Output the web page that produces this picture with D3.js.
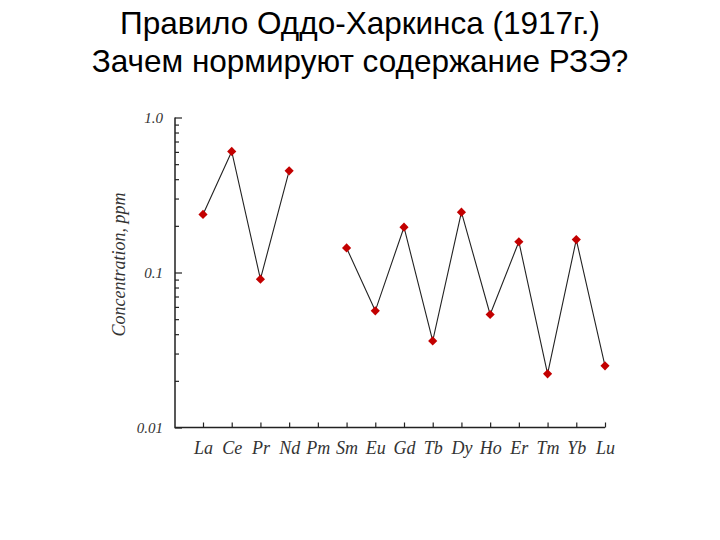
<!DOCTYPE html>
<html>
<head>
<meta charset="utf-8">
<script src="https://cdn.jsdelivr.net/npm/d3@7"></script>
<style>
  html, body { margin: 0; padding: 0; background: #fff; }
  svg { display: block; }
</style>
</head>
<body>
<svg id="chart" width="720" height="540"></svg>
<script>
// ---- data ----
const titleLines = ["Правило Оддо-Харкинса (1917г.)", "Зачем нормируют содержание РЗЭ?"];
const elements = ["La","Ce","Pr","Nd","Pm","Sm","Eu","Gd","Tb","Dy","Ho","Er","Tm","Yb","Lu"];
const concentrations = [0.237, 0.604, 0.0906, 0.453, null, 0.144, 0.0566, 0.196, 0.0362, 0.245, 0.0536, 0.158, 0.0222, 0.163, 0.0250];
const yTickLabels = [[1, "1.0"], [0.1, "0.1"], [0.01, "0.01"]];
const yMinorTicks = [0.02,0.03,0.04,0.05,0.06,0.07,0.08,0.09,0.2,0.3,0.4,0.5,0.6,0.7,0.8,0.9];
const yAxisTitle = "Concentration, ppm";

// ---- layout ----
const svg = d3.select("#chart");
const axisX0 = 175, axisY0 = 427.5, axisTop = 117.5, axisRight = 605;

const x = d3.scalePoint().domain(elements).range([203, 605]);
const y = d3.scaleLog().domain([0.01, 1]).range([axisY0, axisTop]);

// title
svg.append("g").selectAll("text").data(titleLines).join("text")
  .attr("x", 360)
  .attr("y", (d, i) => i === 0 ? 34 : 71.5)
  .attr("text-anchor", "middle")
  .attr("font-family", "'Liberation Sans', Arial, sans-serif")
  .attr("font-size", 31.5)
  .attr("fill", "#000")
  .text(d => d);

const serif = "'Liberation Serif', 'DejaVu Serif', serif";

// y axis: major ticks with labels
const yAxisMajor = d3.axisLeft(y)
  .tickValues(yTickLabels.map(d => d[0]))
  .tickFormat((d, i) => yTickLabels[i][1])
  .tickSizeInner(-7)
  .tickSizeOuter(0)
  .tickPadding(12);
const gy = svg.append("g").attr("transform", `translate(${axisX0},0)`).call(yAxisMajor);
gy.select(".domain").remove();
gy.selectAll(".tick line").attr("stroke", "#222").attr("stroke-width", 1.2);
gy.selectAll(".tick text")
  .attr("font-family", serif).attr("font-style", "italic")
  .attr("font-size", 15).attr("fill", "#333");

// y axis: minor ticks
const yAxisMinor = d3.axisLeft(y)
  .tickValues(yMinorTicks)
  .tickFormat("")
  .tickSizeInner(-4)
  .tickSizeOuter(0);
const gym = svg.append("g").attr("transform", `translate(${axisX0},0)`).call(yAxisMinor);
gym.select(".domain").remove();
gym.selectAll(".tick line").attr("stroke", "#222").attr("stroke-width", 1.2);

// x axis
const xAxis = d3.axisBottom(x).tickSizeInner(-5).tickSizeOuter(0).tickPadding(14);
const gx = svg.append("g").attr("transform", `translate(0,${axisY0})`).call(xAxis);
gx.select(".domain").remove();
gx.selectAll(".tick line").attr("stroke", "#222").attr("stroke-width", 1.2);
gx.selectAll(".tick text")
  .attr("font-family", serif).attr("font-style", "italic")
  .attr("font-size", 18).attr("fill", "#333");

// axis lines
svg.append("path")
  .attr("d", `M${axisX0},${axisTop}V${axisY0}H${axisRight}`)
  .attr("fill", "none").attr("stroke", "#222").attr("stroke-width", 1.5);

// y axis title
svg.append("text")
  .attr("transform", `translate(125,${(axisTop + axisY0) / 2 - 8}) rotate(-90)`)
  .attr("text-anchor", "middle")
  .attr("font-family", serif).attr("font-style", "italic")
  .attr("font-size", 18).attr("fill", "#333")
  .text(yAxisTitle);

// data
const data = elements.map((e, i) => ({ e, v: concentrations[i] }));
const line = d3.line()
  .defined(d => d.v != null)
  .x(d => x(d.e)).y(d => y(d.v));
svg.append("path").datum(data)
  .attr("d", line)
  .attr("fill", "none").attr("stroke", "#222").attr("stroke-width", 1.1);

svg.append("g").selectAll("path").data(data.filter(d => d.v != null)).join("path")
  .attr("d", d3.symbol().type(d3.symbolSquare).size(42))
  .attr("transform", d => `translate(${x(d.e)},${y(d.v)}) rotate(45)`)
  .attr("fill", "#c30000");
</script>
</body>
</html>
